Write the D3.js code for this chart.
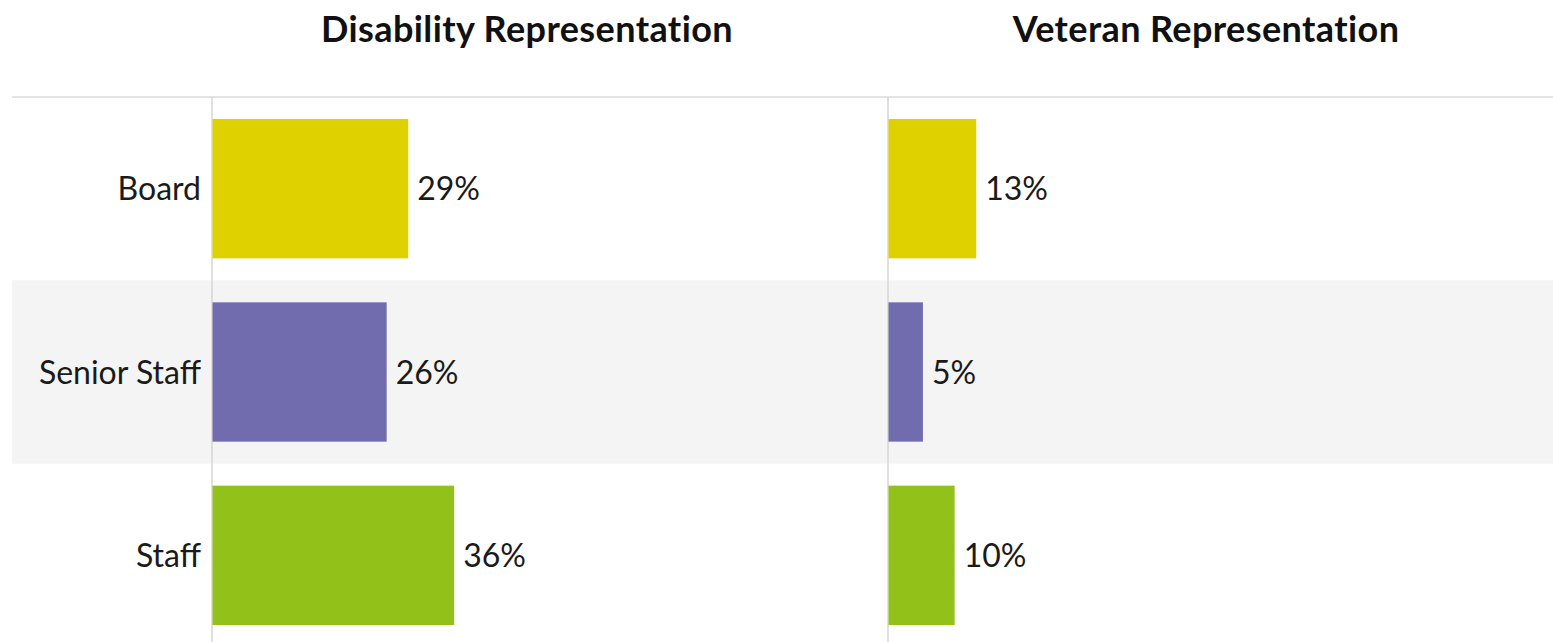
<!DOCTYPE html>
<html><head><meta charset="utf-8">
<script src="https://cdn.jsdelivr.net/npm/d3@7"></script>
<style>html,body{margin:0;padding:0;background:#fff;overflow:hidden}</style>
</head><body>
<svg id="c" width="1553" height="642"></svg>
<script>
const categories = ["Board", "Senior Staff", "Staff"];
const panelTitles = ["Disability Representation", "Veteran Representation"];
const disability = [29.0, 25.8, 35.8];
const veteran = [13.0, 5.1, 9.8];
const colors = ["#dfd000", "#706cae", "#92c11a"];

(function () {
const svg = d3.select("#c");
const W = 1553, H = 642;
const plotTop = 97, plotBottom = 647;
const y = d3.scaleBand().domain(categories).range([plotTop, plotBottom]).paddingInner(0.24).paddingOuter(0.12);
const step = y.step();
const fmt = d3.format(".0f");
const FS = 32;

// row backgrounds
svg.append("g").selectAll("rect").data(categories).join("rect")
  .attr("x", 12).attr("width", W - 12)
  .attr("y", d => y(d) - step * 0.12).attr("height", step)
  .attr("fill", (d, i) => i % 2 === 1 ? "#f4f4f4" : "none");

// top border line
svg.append("line").attr("x1", 12).attr("x2", W).attr("y1", plotTop).attr("y2", plotTop)
  .attr("stroke", "#e3e3e3").attr("stroke-width", 2);

// category labels
svg.append("g").selectAll("text").data(categories).join("text")
  .attr("x", 201).attr("y", d => y(d) + y.bandwidth() / 2 + FS * 0.36)
  .attr("text-anchor", "end")
  .attr("font-family", "Lato, sans-serif").attr("font-size", FS).attr("fill", "#1a1a1a")
  .text(d => d);

const panels = [
  {title: panelTitles[0], values: disability, x0: 212, tx: 527},
  {title: panelTitles[1], values: veteran, x0: 888, tx: 1206}
];
panels.forEach(p => {
  const x = d3.scaleLinear().domain([0, 100]).range([p.x0, p.x0 + 675]);
  const g = svg.append("g");
  g.append("text").attr("x", p.tx).attr("y", 42).attr("text-anchor", "middle")
    .attr("font-family", "Lato, sans-serif").attr("font-weight", "bold").attr("font-size", 36)
    .attr("letter-spacing", 0.4)
    .attr("fill", "#111").text(p.title);
  g.append("line").attr("x1", x(0)).attr("x2", x(0)).attr("y1", plotTop).attr("y2", H)
    .attr("stroke", "#d6d6d6").attr("stroke-width", 1.5);
  g.selectAll("rect.bar").data(p.values).join("rect").attr("class", "bar")
    .attr("x", x(0) + 0.5).attr("y", (d, i) => y(categories[i]))
    .attr("width", d => x(d) - x(0)).attr("height", y.bandwidth())
    .attr("fill", (d, i) => colors[i]);
  g.selectAll("text.val").data(p.values).join("text").attr("class", "val")
    .attr("x", d => x(d) + 9.5).attr("y", (d, i) => y(categories[i]) + y.bandwidth() / 2 + FS * 0.36)
    .attr("font-family", "Lato, sans-serif").attr("font-size", FS).attr("fill", "#1a1a1a")
    .text(d => fmt(d) + "%");
});
})();
</script>
</body></html>
